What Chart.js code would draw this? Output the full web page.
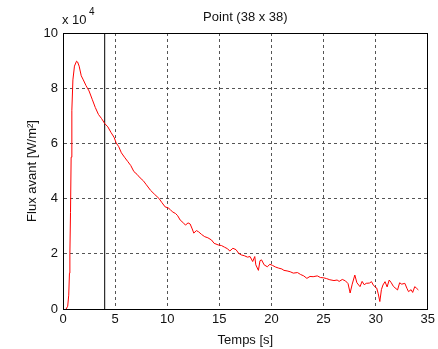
<!DOCTYPE html>
<html>
<head>
<meta charset="utf-8">
<script src="https://cdn.jsdelivr.net/npm/chart.js@4/dist/chart.umd.min.js"></script>
<style>
  body { margin: 0; background: #fff; }
  canvas { display: block; }
</style>
</head>
<body>
<canvas id="fluxChart" width="438" height="349"></canvas>
<script>
// mesure au point (38 x 38) : temps [s] et flux avant [W/m2]
var temps = [
  0.3, 0.45, 0.55, 0.62, 0.66, 0.72, 0.78, 0.85, 0.95, 1.1,
  1.3, 1.4, 1.55, 1.75, 1.95, 2.2, 2.5, 2.8, 3.1, 3.4,
  3.7, 4.0, 4.3, 4.6, 4.9, 5.1, 5.35, 5.6, 5.9, 6.2,
  6.5, 6.8, 7.1, 7.4, 7.7, 8.0, 8.4, 8.8, 9.2, 9.5,
  9.8, 10.1, 10.3, 10.5, 10.8, 11.0, 11.25, 11.5, 11.75, 12.0,
  12.2, 12.4, 12.55, 12.8, 13.0, 13.3, 13.6, 13.9, 14.25, 14.5,
  14.9, 15.2, 15.5, 15.8, 16.0, 16.3, 16.6, 16.85, 17.1, 17.4,
  17.7, 17.95, 18.2, 18.4, 18.5, 18.75, 18.9, 19.05, 19.3, 19.6,
  19.85, 20.1, 20.4, 20.7, 21.0, 21.2, 21.5, 21.8, 22.1, 22.5,
  22.8, 23.1, 23.4, 23.7, 24.0, 24.4, 24.7, 25.0, 25.3, 25.6,
  26.0, 26.3, 26.5, 26.8, 27.1, 27.35, 27.55, 27.75, 28.0, 28.2,
  28.5, 28.7, 28.9, 29.1, 29.4, 29.6, 29.8, 30.1, 30.25, 30.4,
  30.55, 30.7, 30.9, 31.1, 31.3, 31.5, 31.7, 32.1, 32.3, 32.5,
  32.8, 33.0, 33.15, 33.4, 33.55, 33.75, 33.9, 34.1
];
var fluxAvant = [
  0, 1000, 5000, 13000, 20000, 35000, 55000, 72000, 83000, 88000,
  89800, 89500, 88000, 84500, 83000, 81000, 79000, 76000, 73000, 70500,
  69000, 67200, 66000, 64000, 62200, 60200, 58800, 56600, 55000, 53500,
  52000, 49800, 48800, 47500, 46500, 45000, 43000, 41500, 40100, 38500,
  37000, 36600, 36000, 35200, 34600, 33800, 32200, 31400, 30400, 31200,
  30800, 29000, 27500, 28400, 28000, 27000, 26200, 25800, 25000, 23800,
  23200, 23000, 22400, 21800, 21000, 22000, 21500, 20200, 19600, 19300,
  18800, 19000, 17200, 19000, 16000, 14000, 17500, 17800, 16000, 15300,
  16200, 15800, 15200, 14800, 14500, 14000, 13800, 13500, 13000, 13200,
  12500, 12000, 11100, 11800, 11700, 12000, 11400, 11300, 11000, 10600,
  10300, 10500, 10000, 10700, 10200, 9200, 5800, 9000, 12300, 9500,
  8100, 10000, 8800, 9300, 9400, 9900, 8500, 7600, 5500, 2700,
  7000, 8700, 9900, 8000, 10500, 9500, 8200, 6900, 9500, 9000,
  9300, 7500, 6300, 7000, 6000, 8100, 7600, 6900
];
// repère vertical à t = 4 s
var tRepere = 4;

var xTicks = { min: 0, max: 35, step: 5 };
var yTicks = { min: 0, max: 100000, step: 20000 };

var police = "'Liberation Sans', Arial, Helvetica, sans-serif";
var courbe = temps.map(function (t, i) { return { x: t, y: fluxAvant[i] }; });

// titre, facteur d'échelle et cadre autour de la zone de tracé
var habillage = {
  id: 'habillage',
  afterDraw: function (chart) {
    var ctx = chart.ctx;
    var a = chart.chartArea;
    ctx.save();
    ctx.strokeStyle = '#000';
    ctx.lineWidth = 1;
    ctx.strokeRect(Math.round(a.left) + 0.5, Math.round(a.top) + 0.5,
      Math.round(a.right - a.left) - 1, Math.round(a.bottom - a.top));
    ctx.fillStyle = '#111';
    ctx.textBaseline = 'middle';
    ctx.font = '13px ' + police;
    ctx.textAlign = 'center';
    ctx.fillText('Point (38 x 38)', (a.left + a.right) / 2, 17);
    ctx.textAlign = 'left';
    ctx.fillText('x 10', a.left - 1, 20);
    ctx.font = '10px ' + police;
    ctx.fillText('4', a.left + 26, 12);
    ctx.restore();
  }
};

new Chart('fluxChart', {
  type: 'line',
  data: {
    datasets: [{
      data: courbe,
      borderColor: '#ff0000',
      borderWidth: 1,
      pointRadius: 0,
      tension: 0
    }, {
      data: [{ x: tRepere, y: yTicks.min }, { x: tRepere, y: yTicks.max }],
      borderColor: '#000',
      borderWidth: 1,
      pointRadius: 0
    }]
  },
  options: {
    responsive: false,
    animation: false,
    layout: { padding: { top: 33, right: 6, left: 0, bottom: 0 } },
    plugins: { legend: { display: false }, tooltip: { enabled: false } },
    scales: {
      x: {
        type: 'linear',
        min: xTicks.min,
        max: xTicks.max,
        afterFit: function (s) { s.height = 40; },
        ticks: { stepSize: xTicks.step, padding: 3, color: '#111', font: { family: police, size: 13 } },
        grid: { color: '#555', drawTicks: false },
        border: { display: true, color: '#000', dash: [3, 3] },
        title: { display: true, text: 'Temps [s]', color: '#111', padding: { top: 0, bottom: 1 }, font: { family: police, size: 13 } }
      },
      y: {
        min: yTicks.min,
        max: yTicks.max,
        afterFit: function (s) { s.width = 63; },
        ticks: {
          stepSize: yTicks.step,
          padding: 5,
          color: '#111',
          font: { family: police, size: 13 },
          callback: function (v) { return v / 10000; }
        },
        grid: { color: '#555', drawTicks: false },
        border: { display: true, color: '#000', dash: [3, 3] },
        title: { display: true, text: 'Flux avant [W/m²]', color: '#111', padding: { top: 25, bottom: 0 }, font: { family: police, size: 13 } }
      }
    }
  },
  plugins: [habillage]
});
</script>
</body>
</html>
